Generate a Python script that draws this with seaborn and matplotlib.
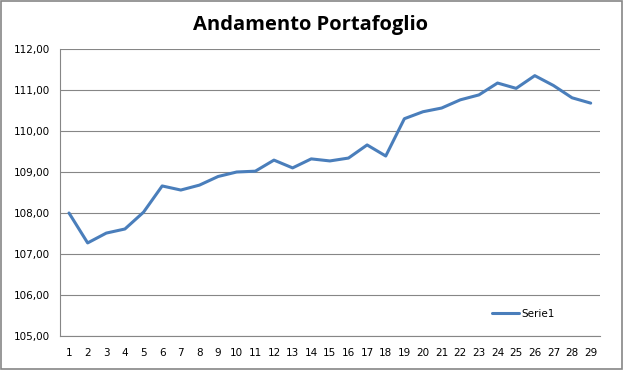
import pandas as pd
import seaborn as sns
import matplotlib.pyplot as plt

# data
giorni = list(range(1, 30))
valori = [108.00, 107.27, 107.51, 107.61, 108.02, 108.66, 108.56, 108.68, 108.89, 109.00,
          109.02, 109.29, 109.10, 109.32, 109.27, 109.34, 109.66, 109.39, 110.30, 110.47,
          110.56, 110.76, 110.88, 111.17, 111.04, 111.35, 111.11, 110.81, 110.68]
y_ticks = [105, 106, 107, 108, 109, 110, 111, 112]

df = pd.DataFrame({"giorno": giorni, "valore": valori, "serie": "Serie1"})

sns.set_style("white")
plt.rcParams["font.family"] = ["DejaVu Sans"]
plt.rcParams["text.color"] = "black"
plt.rcParams["xtick.labelcolor"] = "black"
plt.rcParams["ytick.labelcolor"] = "black"

fig = plt.figure(figsize=(6.23, 3.70), dpi=100)
ax = fig.add_axes([59.7 / 623, 1 - 336 / 370, 540.3 / 623, 287 / 370])

sns.lineplot(data=df, x="giorno", y="valore", hue="serie", palette=["#4a7ebb"],
             linewidth=2.2, ax=ax)

grey = "#868686"
ax.set_xlim(0.5, 29.5)
ax.set_ylim(105, 112)
ax.set_yticks(y_ticks)
ax.set_yticklabels([f"{v:.2f}".replace(".", ",") for v in y_ticks], fontsize=7.5)
ax.set_xticks(giorni)
ax.set_xticklabels([str(g) for g in giorni], fontsize=7.5)
ax.set_xticks([g - 0.5 for g in giorni] + [29.5], minor=True)
ax.tick_params(axis="x", which="major", length=0, pad=9)
ax.tick_params(axis="x", which="minor", length=4, color=grey, width=0.8)
ax.tick_params(axis="y", which="major", length=4, color=grey, width=0.8, pad=3)
ax.grid(axis="y", color=grey, linewidth=0.8)
ax.set_axisbelow(True)
for side in ["top", "right"]:
    ax.spines[side].set_visible(False)
for side in ["left", "bottom"]:
    ax.spines[side].set_color(grey)
    ax.spines[side].set_linewidth(0.8)
ax.set_xlabel("")
ax.set_ylabel("")

ax.legend(loc="center left", bbox_to_anchor=(0.80, 0.077), frameon=False,
          fontsize=7.5, handlelength=2.6, handletextpad=0.2, borderpad=0, borderaxespad=0)

fig.text(0.498, 1 - 25 / 370, "Andamento Portafoglio", ha="center", va="center",
         fontsize=14.5, fontweight="bold", color="black",
         family=["Open Sans", "DejaVu Sans"])

fig.add_artist(plt.Rectangle((0.001, 0.002), 0.997, 0.995, transform=fig.transFigure,
                             fill=False, edgecolor=grey, linewidth=1.2))

fig.savefig("out.png", dpi=100)
